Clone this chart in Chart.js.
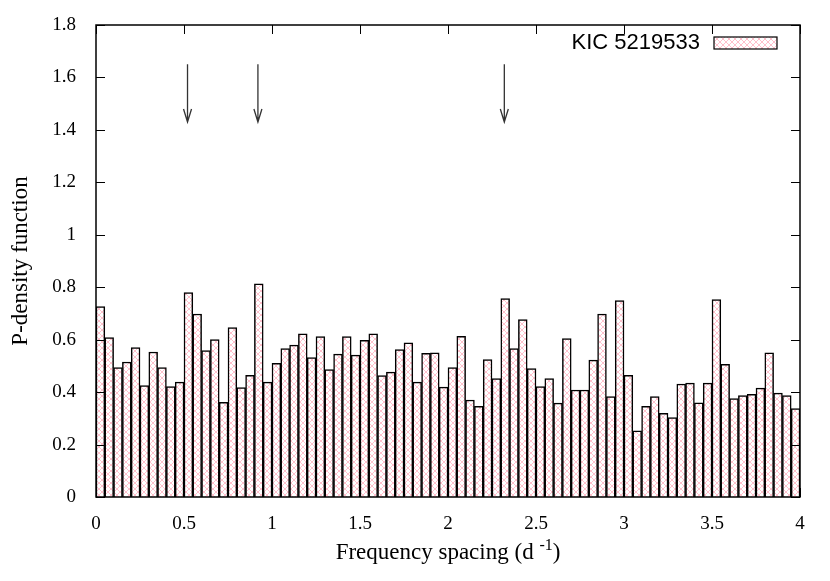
<!DOCTYPE html>
<html>
<head>
<meta charset="utf-8">
<script src="https://cdn.jsdelivr.net/npm/chart.js@4.4.1/dist/chart.umd.min.js"></script>
<style>
  body { margin: 0; background: #fff; }
  #wrap { width: 830px; height: 581px; }
</style>
</head>
<body>
<div id="wrap"><canvas id="c"></canvas></div>
<script>
// histogram: 80 bins of width 0.05 from 0 to 4
const binWidth = 0.05;
const densities = [
  0.726, 0.608, 0.494, 0.515, 0.570, 0.425, 0.553, 0.494, 0.421, 0.438,
  0.780, 0.698, 0.558, 0.600, 0.361, 0.646, 0.417, 0.464, 0.813, 0.438,
  0.510, 0.566, 0.579, 0.622, 0.532, 0.612, 0.486, 0.545, 0.612, 0.541,
  0.597, 0.622, 0.463, 0.476, 0.562, 0.588, 0.438, 0.548, 0.550, 0.419,
  0.494, 0.613, 0.370, 0.346, 0.524, 0.452, 0.757, 0.566, 0.677, 0.490,
  0.421, 0.452, 0.358, 0.604, 0.408, 0.408, 0.522, 0.698, 0.383, 0.749,
  0.464, 0.252, 0.346, 0.383, 0.319, 0.303, 0.431, 0.434, 0.359, 0.434,
  0.753, 0.506, 0.375, 0.387, 0.392, 0.415, 0.550, 0.396, 0.387, 0.337
];
const seriesLabel = 'KIC 5219533';
const xTicks = [0, 0.5, 1, 1.5, 2, 2.5, 3, 3.5, 4];
const yTicks = [0, 0.2, 0.4, 0.6, 0.8, 1, 1.2, 1.4, 1.6, 1.8];
const xTitle = 'Frequency spacing (d ';
const xTitleSup = '-1';
const yTitle = 'P-density function';
// arrows marking spacings
const arrowX = [0.52, 0.92, 2.32];
const arrowTop = 1.65;
const arrowTip = 1.43;

const serif = '"Liberation Serif", "DejaVu Serif", serif';
const sans = '"Liberation Sans", Arial, sans-serif';

function makePattern() {
  const p = document.createElement('canvas');
  p.width = 6; p.height = 6;
  const g = p.getContext('2d');
  g.fillStyle = '#fff';
  g.fillRect(0, 0, 6, 6);
  g.strokeStyle = '#ffc0cc';
  g.lineWidth = 1;
  g.beginPath();
  g.moveTo(0, 0); g.lineTo(6, 6);
  g.moveTo(6, 0); g.lineTo(0, 6);
  g.stroke();
  return g.createPattern(p, 'repeat');
}

const points = densities.map((v, i) => ({ x: (i + 0.5) * binWidth, y: v }));

// frame, inward ticks, arrows, titles and legend, gnuplot style
const decorations = {
  id: 'decorations',
  afterDatasetsDraw(chart) {
    const { ctx, chartArea: a, scales: { x, y } } = chart;
    ctx.save();
    ctx.strokeStyle = '#000';
    ctx.lineWidth = 1;
    ctx.beginPath();
    xTicks.forEach(t => {
      const px = Math.round(x.getPixelForValue(t)) + 0.5;
      ctx.moveTo(px, a.bottom); ctx.lineTo(px, a.bottom - 9);
      ctx.moveTo(px, a.top); ctx.lineTo(px, a.top + 9);
    });
    yTicks.forEach(t => {
      const py = Math.round(y.getPixelForValue(t)) + 0.5;
      ctx.moveTo(a.left, py); ctx.lineTo(a.left + 9, py);
      ctx.moveTo(a.right, py); ctx.lineTo(a.right - 9, py);
    });
    ctx.stroke();
    ctx.lineWidth = 1.5;
    ctx.strokeRect(a.left, a.top, a.right - a.left, a.bottom - a.top);

    // arrows
    ctx.strokeStyle = '#333';
    ctx.lineWidth = 1.3;
    arrowX.forEach(v => {
      const px = x.getPixelForValue(v);
      const top = y.getPixelForValue(arrowTop);
      const tip = y.getPixelForValue(arrowTip);
      ctx.beginPath();
      ctx.moveTo(px, top); ctx.lineTo(px, tip);
      ctx.moveTo(px - 4, tip - 13); ctx.lineTo(px, tip); ctx.lineTo(px + 4, tip - 13);
      ctx.stroke();
    });

    // axis titles
    ctx.fillStyle = '#000';
    ctx.textBaseline = 'alphabetic';
    ctx.font = '23px ' + serif;
    const w1 = ctx.measureText(xTitle).width;
    ctx.font = '16px ' + serif;
    const w2 = ctx.measureText(xTitleSup).width;
    ctx.font = '23px ' + serif;
    const w3 = ctx.measureText(')').width;
    let tx = (a.left + a.right) / 2 - (w1 + w2 + w3) / 2;
    ctx.textAlign = 'left';
    ctx.fillText(xTitle, tx, 559);
    ctx.font = '16px ' + serif;
    ctx.fillText(xTitleSup, tx + w1, 550);
    ctx.font = '23px ' + serif;
    ctx.fillText(')', tx + w1 + w2, 559);

    ctx.save();
    ctx.translate(27, (a.top + a.bottom) / 2);
    ctx.rotate(-Math.PI / 2);
    ctx.textAlign = 'center';
    ctx.fillText(yTitle, 0, 0);
    ctx.restore();

    // legend
    const ly = a.top + 18;
    ctx.font = '22px ' + sans;
    ctx.textAlign = 'right';
    ctx.textBaseline = 'middle';
    ctx.fillText(seriesLabel, a.right - 100, ly);
    ctx.fillStyle = chart.data.datasets[0].backgroundColor;
    ctx.fillRect(a.right - 86, ly - 6, 63, 12);
    ctx.strokeStyle = '#000';
    ctx.lineWidth = 1.2;
    ctx.strokeRect(a.right - 86, ly - 6, 63, 12);
    ctx.restore();
  }
};

const ctx = document.getElementById('c').getContext('2d');
new Chart(ctx, {
  type: 'bar',
  data: {
    datasets: [{
      label: seriesLabel,
      data: points,
      backgroundColor: makePattern(),
      borderColor: '#000',
      borderWidth: 1.5,
      barPercentage: 1,
      categoryPercentage: 1,
      borderSkipped: 'bottom'
    }]
  },
  options: {
    responsive: true,
    maintainAspectRatio: false,
    animation: false,
    layout: { padding: { left: 0, right: 30, top: 25, bottom: 0 } },
    plugins: { legend: { display: false }, tooltip: { enabled: false } },
    scales: {
      x: {
        type: 'linear',
        min: 0, max: 4,
        offset: false,
        grid: { display: false },
        border: { display: false },
        afterBuildTicks: s => { s.ticks = xTicks.map(v => ({ value: v })); },
        afterFit: s => { s.height = 84; },
        ticks: {
          color: '#000',
          font: { family: serif, size: 19 },
          padding: 8,
          maxRotation: 0,
          callback: v => String(v)
        }
      },
      y: {
        min: 0, max: 1.8,
        grid: { display: false },
        border: { display: false },
        afterBuildTicks: s => { s.ticks = yTicks.map(v => ({ value: v })); },
        afterFit: s => { s.width = 96; },
        ticks: {
          color: '#000',
          font: { family: serif, size: 19 },
          padding: 12,
          callback: v => String(v)
        }
      }
    }
  },
  plugins: [decorations]
});
</script>
</body>
</html>
